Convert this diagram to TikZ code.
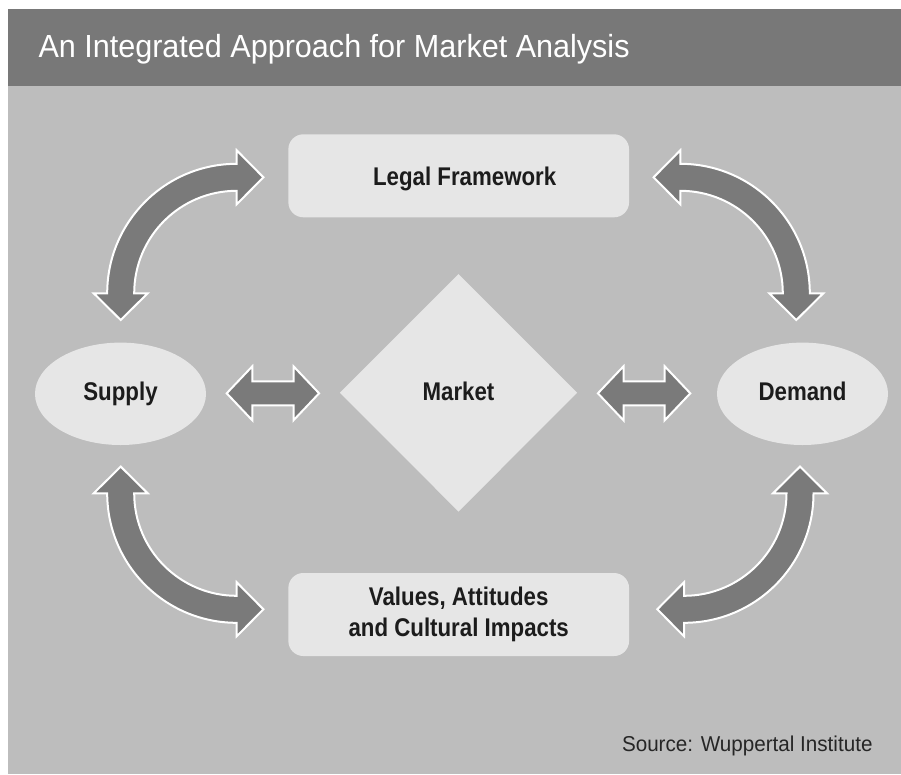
\documentclass[tikz,border=0pt]{standalone}
\usepackage{fontspec}
\setmainfont{Liberation Sans}
\newfontfamily\titlefont[FakeStretch=0.955]{Liberation Sans}
\newfontfamily\lblfont[FakeStretch=0.87]{Liberation Sans}
\newfontfamily\srcfont[FakeStretch=0.96]{Liberation Sans}
\usetikzlibrary{shapes.geometric,calc}
\definecolor{hdr}{HTML}{787878}
\definecolor{bg}{HTML}{BDBDBD}
\definecolor{boxfill}{HTML}{E6E6E6}
\definecolor{arr}{HTML}{7A7A7A}
\definecolor{ink}{HTML}{1C1C1C}
\definecolor{srcink}{HTML}{262626}

\newcommand{\bendarrow}[5]{%
  \draw[bendarrowstyle] ($(#1)+(#2:129.5pt)$) arc[start angle=#2, end angle=#3, radius=129.5pt]
    -- ($(#1)+(#3:143pt)$) -- ($(#1)+(#3:116pt)+(#5:26.7pt)$) -- ($(#1)+(#3:89pt)$) -- ($(#1)+(#3:102.5pt)$)
    arc[start angle=#3, end angle=#2, radius=102.5pt]
    -- ($(#1)+(#2:89pt)$) -- ($(#1)+(#2:116pt)+(#4:26.7pt)$) -- ($(#1)+(#2:143pt)$) -- cycle;}

\begin{document}
\begin{tikzpicture}[x=1pt,y=1pt,
  bendarrowstyle/.style={fill=arr, draw=white, line width=2pt, line join=miter},
  lbl/.style={font={\lblfont\bfseries\fontsize{25.6pt}{31pt}\selectfont}, text=ink},
  ell/.style={lbl, ellipse, fill=boxfill, minimum width=171pt, minimum height=102.4pt, inner sep=0pt, text height=18pt, text depth=5.6pt},
  dia/.style={lbl, diamond, fill=boxfill, minimum width=237.4pt, minimum height=237.6pt, inner sep=0pt, text height=18pt, text depth=3.6pt},
  rbox/.style={lbl, rectangle, rounded corners=15pt, fill=boxfill, minimum width=340.7pt, minimum height=83pt, align=center}
]
\useasboundingbox (0,0) rectangle (901,-774);
\fill[white] (0,0) rectangle (901,-774);
\fill[hdr] (8,-9) rectangle (901,-86);
\fill[bg] (8,-86) rectangle (901,-774);

\node[anchor=base west, text=white, font={\titlefont\fontsize{32pt}{38pt}\selectfont}, inner sep=0pt] (title) at (38.3,-57.3) {An Integrated Approach for Market Analysis};

\node[ell] (supply) at (120.5,-393.8) {Supply};
\node[ell] (demand) at (802.5,-393.8) {Demand};
\node[dia] (market) at (458.5,-392.8) {Market};
\node[rbox, text height=19.8pt, text depth=0pt] (legal) at (458.7,-175.8) {\hspace*{12pt}Legal Framework};
\node[rbox] (values) at (458.7,-614.5) {Values, Attitudes\\and Cultural Impacts};

\node[anchor=base east, text=srcink, font={\srcfont\fontsize{21.5pt}{26pt}\selectfont}, inner sep=0pt] (source) at (872.7,-751.7) {Source: Wuppertal Institute};

% straight double arrows
\coordinate (la) at ($(supply.east)!0.5!(market.west)$);
\coordinate (ra) at ($(market.east)!0.5!(demand.west)+(-3,0)$);
\foreach \c in {la,ra}{
  \draw[bendarrowstyle] ($(\c)+(-46.2,0)$) -- ++(25.6,27) -- ++(0,-15) -- ++(41.2,0) -- ++(0,15) -- ++(25.6,-27)
    -- ++(-25.6,-27) -- ++(0,15) -- ++(-41.2,0) -- ++(0,-15) -- cycle;
}

% curved double arrows
\coordinate (tlc) at (236.7,-293.3);
\coordinate (trc) at (680.3,-293.3);
\coordinate (blc) at (236.7,-493.3);
\coordinate (brc) at (684,-493.3);
\bendarrow{tlc}{180}{90}{270}{0}
\bendarrow{trc}{0}{90}{-90}{180}
\bendarrow{blc}{180}{270}{90}{0}
\bendarrow{brc}{0}{-90}{90}{180}
\end{tikzpicture}
\end{document}
